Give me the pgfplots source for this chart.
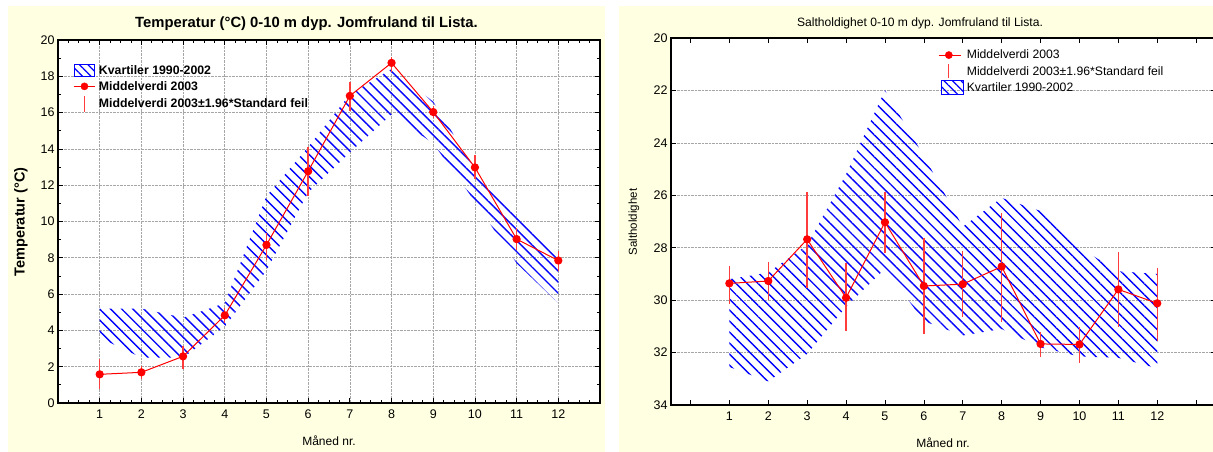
\documentclass[border=0pt]{standalone}
\usepackage{fontspec}
\setmainfont{Liberation Sans}
\usepackage{pgfplots}
\usepackage{pgfplotstable}
\pgfplotsset{compat=1.18}
\usetikzlibrary{patterns.meta}
\definecolor{cream}{RGB}{255,255,225}
\definecolor{errred}{RGB}{255,60,60}

% month, mean 2003, mean-1.96SE, mean+1.96SE
\pgfplotstableread{
m  mean   lo     hi
1  1.58   0.75   2.42
2  1.69   1.30   2.02
3  2.57   1.86   3.16
4  4.83   4.39   5.25
5  8.71   7.88   9.38
6  12.77  11.42  14.12
7  16.92  16.10  17.70
8  18.74  18.25  19.08
9  16.03  15.68  16.36
10 12.98  12.32  13.66
11 9.03   8.43   9.62
12 7.85   7.29   8.39
}\temp
% quartile band 1990-2002: upper quartile months 1..12, then lower quartile months 12..1
\pgfplotstableread{
m  q
1  5.2
2  5.2
3  4.7
4  5.5
5  11.4
6  14.1
7  17.0
8  18.4
9  16.6
10 12.9
11 10.5
12 8.2
12 5.5
11 7.7
10 11.1
9  14.3
8  15.9
7  13.8
6  11.6
5  7.3
4  4.2
3  2.5
2  2.5
1  3.6
}\tband

\pgfplotstableread{
m  mean   lo     hi
1  29.36  28.69  30.13
2  29.27  28.56  30.00
3  27.68  25.86  29.55
4  29.91  28.60  31.17
5  27.03  25.86  28.19
6  29.46  27.64  31.29
7  29.39  28.13  30.63
8  28.72  26.69  30.82
9  31.67  31.20  32.18
10 31.69  31.04  32.41
11 29.59  28.15  31.01
12 30.12  28.79  31.55
}\salt
\pgfplotstableread{
m  q
1  29.2
2  28.95
3  27.9
4  25.2
5  22.0
6  24.5
7  27.2
8  26.1
9  26.6
10 28.0
11 28.9
12 29.0
12 32.6
11 32.2
10 32.15
9  31.8
8  31.1
7  31.35
6  30.8
5  28.8
4  30.25
3  32.05
2  33.1
1  32.55
}\sband

\pgfplotsset{
  panel/.style={
    scale only axis,
    anchor=south west,
    axis background/.style={fill=white},
    axis line style={line width=1.1pt, black},
    tick align=inside,
    tick pos=both,
    major tick length=5pt,
    minor tick length=3pt,
    every tick/.style={black, line width=0.7pt},
    /pgf/number format/assume math mode=true,
    tick label style={font=\fontsize{12.5}{14}\selectfont},
    xticklabel style={yshift=-3pt},
    major grid style={densely dotted, black!35, line width=0.6pt},
    legend cell align=left,
  },
  hatch/.style={draw=none, pattern={Lines[angle=-45,distance=7.8pt,line width=1.4pt]}, pattern color=blue},
}

\begin{document}
\begin{tikzpicture}[x=1pt,y=1pt]
\fill[cream] (8,0) rectangle (605,446);
\fill[cream] (619,0) rectangle (1213,446);

% ---------------- Temperature panel ----------------
\begin{axis}[panel,
  at={(58pt,49pt)}, width=542pt, height=363pt,
  xmin=0, xmax=13, ymin=0, ymax=20,
  xtick={0,...,13},
  xticklabels={{},1,2,3,4,5,6,7,8,9,10,11,12,{}},
  minor x tick num=3,
  ytick={0,2,...,20},
  minor y tick num=1,
  xmajorgrids, ymajorgrids,
  legend style={at={(0.018,0.942)}, anchor=north west, draw=none, fill=none,
    font=\bfseries\fontsize{12.3}{14}\selectfont, row sep=1.5pt,
    nodes={inner sep=2pt}},
]
\addlegendimage{legend image code/.code={\path[draw=none,fill=none] (0pt,0pt)--(26pt,0pt); \draw[blue, line width=1pt, fill=cream, pattern={Lines[angle=-45,distance=6pt,line width=1.2pt]}, pattern color=blue] (4pt,-6pt) rectangle (24pt,6pt);}}
\addlegendentry{Kvartiler 1990-2002}
\addlegendimage{legend image code/.code={\path[draw=none,fill=none] (0pt,0pt)--(26pt,0pt); \draw[red, line width=1pt] (3pt,0pt)--(24pt,0pt); \fill[red] (13.5pt,0pt) circle (3.6pt);}}
\addlegendentry{Middelverdi 2003}
\addlegendimage{legend image code/.code={\path[draw=none,fill=none] (0pt,0pt)--(26pt,0pt); \draw[errred, line width=1.2pt] (13.5pt,-8pt)--(13.5pt,8pt);}}
\addlegendentry{Middelverdi 2003±1.96*Standard feil}

\addplot[hatch, forget plot] table[x=m, y=q] {\tband} -- cycle;

\addplot[errred, only marks, mark=none, forget plot,
  error bars/.cd, y dir=both, y explicit, error mark=none,
  error bar style={draw=errred, line width=1.4pt, solid}]
  table[x=m, y=mean, y error plus expr=\thisrow{hi}-\thisrow{mean},
        y error minus expr=\thisrow{mean}-\thisrow{lo}] {\temp};
\addplot[red, line width=1pt, mark=*, mark size=3.6pt,
  mark options={fill=red, draw=red, solid}, forget plot]
  table[x=m, y=mean] {\temp};
\end{axis}

\node[font=\bfseries\fontsize{14.8}{16}\selectfont] at (306.5,428) {Temperatur (°C) 0-10 m dyp. Jomfruland til Lista.};
\node[font=\bfseries\fontsize{14.5}{16}\selectfont, rotate=90] at (21,230) {Temperatur (°C)};
\node[font=\fontsize{12}{14}\selectfont] at (329,11) {Måned nr.};

% ---------------- Salinity panel ----------------
\begin{axis}[panel,
  at={(671pt,47pt)}, width=544.6pt, height=367pt,
  xmin=-0.5, xmax=13.5, ymin=20, ymax=34, y dir=reverse,
  xtick={0,...,13},
  xticklabels={{},1,2,3,4,5,6,7,8,9,10,11,12,{}},
  ytick={20,22,...,34},
  ymajorgrids,
  legend style={at={(0.485,0.979)}, anchor=north west, draw=none, fill=none,
    font=\fontsize{12.2}{14}\selectfont, row sep=1.5pt,
    nodes={inner sep=2pt}},
]
\addlegendimage{legend image code/.code={\path[draw=none,fill=none] (0pt,0pt)--(26pt,0pt); \draw[red, line width=1pt] (0pt,0pt)--(22pt,0pt); \fill[red] (10pt,0pt) circle (3.6pt);}}
\addlegendentry{Middelverdi 2003}
\addlegendimage{legend image code/.code={\path[draw=none,fill=none] (0pt,0pt)--(26pt,0pt); \draw[errred, line width=1.2pt] (10pt,-7pt)--(10pt,7pt);}}
\addlegendentry{Middelverdi 2003±1.96*Standard feil}
\addlegendimage{legend image code/.code={\path[draw=none,fill=none] (0pt,0pt)--(26pt,0pt); \draw[blue, line width=1pt, fill=white, pattern={Lines[angle=-45,distance=6pt,line width=1.2pt]}, pattern color=blue] (3pt,-7pt) rectangle (25pt,7pt);}}
\addlegendentry{Kvartiler 1990-2002}

\addplot[hatch, forget plot] table[x=m, y=q] {\sband} -- cycle;

\addplot[errred, only marks, mark=none, forget plot,
  error bars/.cd, y dir=both, y explicit, error mark=none,
  error bar style={draw=errred, line width=1.4pt, solid}]
  table[x=m, y=mean, y error plus expr=\thisrow{hi}-\thisrow{mean},
        y error minus expr=\thisrow{mean}-\thisrow{lo}] {\salt};
\addplot[red, line width=1pt, mark=*, mark size=3.6pt,
  mark options={fill=red, draw=red, solid}, forget plot]
  table[x=m, y=mean] {\salt};
\end{axis}

\node[font=\fontsize{12.1}{14}\selectfont] at (920,428.5) {Saltholdighet 0-10 m dyp. Jomfruland til Lista.};
\node[font=\fontsize{11.5}{13}\selectfont, rotate=90] at (634,230) {Saltholdighet};
\node[font=\fontsize{12}{14}\selectfont] at (943,9) {Måned nr.};

\pgfresetboundingbox
\useasboundingbox (0,0) rectangle (1213,452);
\end{tikzpicture}
\end{document}
